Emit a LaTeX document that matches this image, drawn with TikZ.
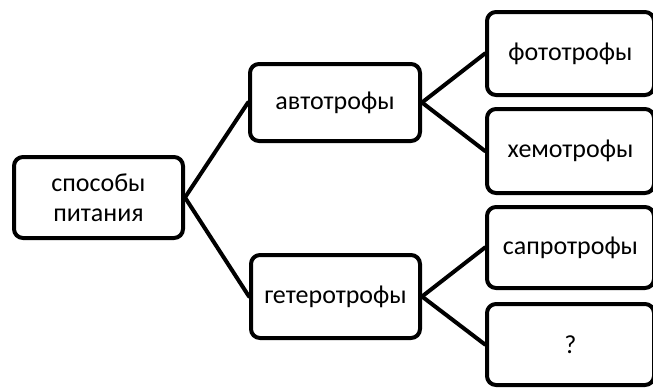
\documentclass[tikz,border=0pt]{standalone}
\usepackage{fontspec}
\setmainfont{Carlito}
\usetikzlibrary{positioning}

\begin{document}
\begin{tikzpicture}[x=1pt, y=-1pt, line cap=round, line join=round,
    blok/.style={draw, line width=4pt, rounded corners=9pt, align=center,
      font=\fontsize{26}{30}\selectfont, inner sep=2pt},
    svyaz/.style={line width=4pt}]
    \clip (0,0) rectangle (653,388);

    % levyj blok
    \node[blok, minimum width=169pt, minimum height=81pt] (sposoby) at (98.5,197.5) {способы\\питания};

    % vtoroj uroven
    \node[blok, minimum width=170pt, minimum height=77pt] (avto) at (335,102.5) {автотрофы};
    \node[blok, minimum width=169pt, minimum height=83pt] (getero) at (335.5,296.5) {гетеротрофы};

    % tretij uroven
    \node[blok, minimum width=167pt, minimum height=83pt] (foto) at (570.5,53.5) {фототрофы};
    \node[blok, minimum width=167pt, minimum height=84pt] (hemo) at (570.5,151) {хемотрофы};
    \node[blok, minimum width=167pt, minimum height=81pt] (sapro) at (570.5,247.5) {сапротрофы};
    \node[blok, minimum width=167pt, minimum height=81pt] (vopros) at (570.5,344.5) {?};

    \draw[svyaz] (sposoby.east) -- (avto.west);
    \draw[svyaz] (sposoby.east) -- (getero.west);
    \draw[svyaz] (avto.east) -- (foto.west);
    \draw[svyaz] (avto.east) -- (hemo.west);
    \draw[svyaz] (getero.east) -- (sapro.west);
    \draw[svyaz] (getero.east) -- (vopros.west);
\end{tikzpicture}
\end{document}
